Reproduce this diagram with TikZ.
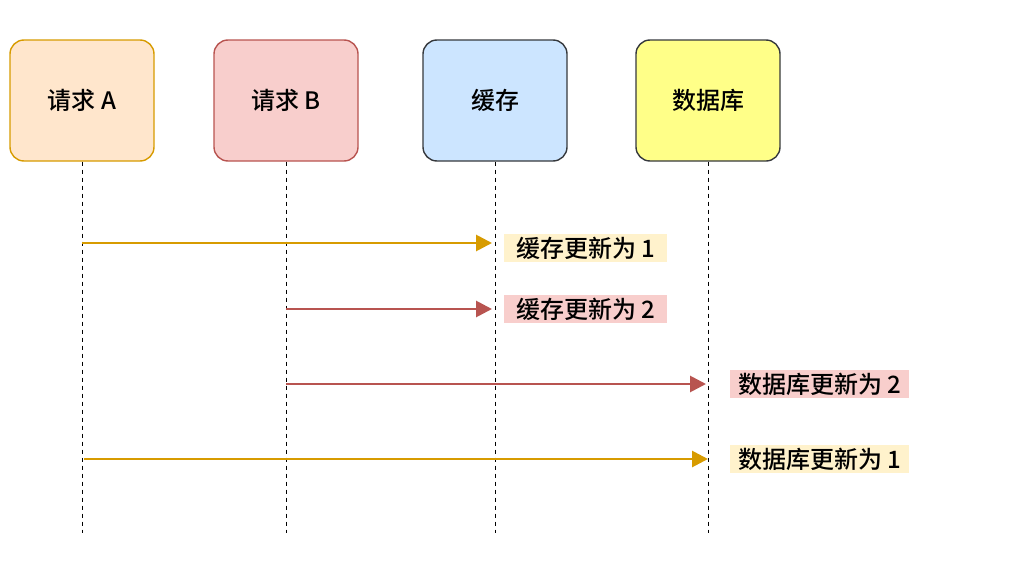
\documentclass[tikz,border=0pt]{standalone}
\usepackage{fontspec}
\setmainfont{Noto Sans CJK SC}[UprightFont=* Medium]
\usetikzlibrary{arrows.meta}
\definecolor{aFill}{HTML}{FFE6CC}
\definecolor{aLine}{HTML}{D79B00}
\definecolor{bFill}{HTML}{F8CECC}
\definecolor{bLine}{HTML}{B85450}
\definecolor{cFill}{HTML}{CCE5FF}
\definecolor{dFill}{HTML}{FFFF88}
\definecolor{grayLine}{HTML}{36393D}
\definecolor{yLabel}{HTML}{FFF2CC}
\tikzset{
  actor/.style={draw, line width=1.4pt, rounded corners=14pt, minimum width=144pt, minimum height=121pt, inner sep=0pt, font=\fontsize{24}{28}\selectfont},
  lifeline/.style={draw=black, line width=1pt, dash pattern=on 4pt off 4pt},
  msg/.style={line width=2.8pt, -{Triangle[length=16pt,width=16pt]}},
  lbl/.style={inner sep=0pt, minimum height=28pt, anchor=west},
  lbltext/.style={anchor=west, inner sep=0pt, font=\fontsize{24}{28}\selectfont}
}
\begin{document}
\begin{tikzpicture}[x=1pt,y=-1pt]
\useasboundingbox (0,0) rectangle (1024,570);
\node[actor, fill=aFill, draw=aLine] (A) at (82,100.5) {请求 A};
\node[actor, fill=bFill, draw=bLine] (B) at (286,100.5) {请求 B};
\node[actor, fill=cFill, draw=grayLine] (C) at (495,100.5) {缓存};
\node[actor, fill=dFill, draw=grayLine] (D) at (708,100.5) {数据库};
\coordinate (Ae) at (82,533);
\coordinate (Be) at (286,533);
\coordinate (Ce) at (495,533);
\coordinate (De) at (708,533);
\draw[lifeline] (A.south) -- (Ae);
\draw[lifeline] (B.south) -- (Be);
\draw[lifeline] (C.south) -- (Ce);
\draw[lifeline] (D.south) -- (De);
% messages
\coordinate (a1) at (82,243);  \coordinate (c1) at (492,243);
\coordinate (b2) at (286,309); \coordinate (c2) at (492,309);
\coordinate (b3) at (286,384); \coordinate (d3) at (706,384);
\coordinate (a4) at (84,459);  \coordinate (d4) at (708,459);
\draw[msg, draw=aLine, fill=aLine] (a1) -- (c1);
\draw[msg, draw=bLine, fill=bLine] (b2) -- (c2);
\draw[msg, draw=bLine, fill=bLine] (b3) -- (d3);
\draw[msg, draw=aLine, fill=aLine] (a4) -- (d4);
\node[lbl, fill=yLabel, minimum width=163pt] (l1) at (504,248) {};
\node[lbltext] (t1) at (516,248) {缓存更新为 1};
\node[lbl, fill=bFill, minimum width=163pt] (l2) at (504,309) {};
\node[lbltext] (t2) at (516,309) {缓存更新为 2};
\node[lbl, fill=bFill, minimum width=179pt] (l3) at (730,384) {};
\node[lbltext] (t3) at (738,384) {数据库更新为 2};
\node[lbl, fill=yLabel, minimum width=179pt] (l4) at (730,459) {};
\node[lbltext] (t4) at (738,459) {数据库更新为 1};
\end{tikzpicture}
\end{document}
